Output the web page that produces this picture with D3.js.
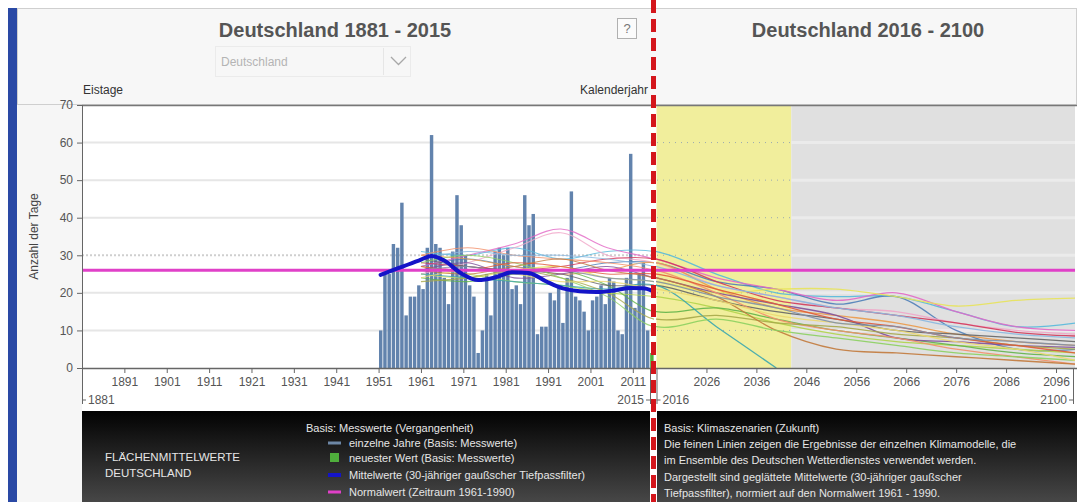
<!DOCTYPE html>
<html>
<head>
<meta charset="utf-8">
<script src="https://cdn.jsdelivr.net/npm/d3@7/dist/d3.min.js"></script>
<style>
  body { margin: 0; background: #fff; }
  svg { display: block; font-family: "Liberation Sans", Arial, sans-serif; }
</style>
</head>
<body>
<div id="chart"></div>
<script>
//Farben
const COLOR_BAR = '#6283ad',
COLOR_MEAN = '#1414c8',
COLOR_NORM = '#e040c8',
COLOR_NEW = '#4fae3c',
COLOR_DASH = '#d4161c',
COLOR_YELLOW = '#f1ee9c',
COLOR_GREY = '#e0e0e0';

//Daten: Eistage Deutschland (Flächenmittel)
const startJahr = 1951;
const eistage = [10, 25, 25, 33, 32, 44, 14, 19, 19, 22,
                 21, 32, 62, 33, 32, 24, 17, 31, 46, 38,
                 30, 22, 19, 4, 10, 25, 14, 31, 32, 30,
                 32, 21, 22, 17, 46, 38, 41, 9, 11, 11,
                 20, 18, 22, 12, 24, 47, 19, 18, 15, 10,
                 18, 19, 22, 17, 24, 23, 10, 9, 24, 57,
                 16, 25, 28, 10];
const neuesterJahr = 2015, neuesterWert = 4;

//Mittelwerte (30-jähriger Tiefpass)
const mittelJahre = [1951, 1955, 1960, 1963, 1966, 1970, 1974, 1978, 1982, 1986, 1990, 1994, 1998, 2002, 2006, 2010, 2013, 2015];
const mittelWerte = [24.8, 26.5, 28.6, 29.8, 28.6, 25.2, 23.4, 24.1, 25.5, 25.3, 23.1, 21.2, 20.4, 20.2, 20.6, 21.3, 21.2, 20.6];

const normalwert = 26;

//Klimamodelle (Ensemble)
const modellJahre = [1961, 1972, 1983, 1994, 2005, 2016, 2028, 2040, 2052, 2064, 2076, 2088, 2100];
const modelle = [
  [31, 30, 32, 29, 31, 31, 25, 20, 19, 19, 15, 11, 12],
  [27, 29, 27, 26, 28, 28, 23, 21, 17, 19, 10, 5, 5],
  [27, 30, 33, 37, 32, 29, 24, 21, 18, 20, 15, 11, 10],
  [25, 28, 32, 36, 30, 28, 22, 19, 16, 15, 12, 10, 9],
  [28, 27, 26, 27, 29, 29, 23, 18, 16, 14, 12, 9.5, 8.5],
  [30, 29, 27, 25, 26, 28, 21, 16, 14, 12, 9, 7, 6],
  [25, 24, 26, 27, 24, 23, 20, 21, 21, 19, 16.5, 18, 18.6],
  [27, 25, 23, 22, 20, 19, 16, 12, 9, 7, 6, 5, 4],
  [24, 23, 25, 26, 22, 15, 16, 13, 10, 8, 6, 4, 3],
  [29, 27, 26, 25, 22, 22, 18, 15, 13, 10, 9, 8, 7],
  [26, 28, 24, 25, 27, 24, 20, 17, 14, 8, 7, 6, 5.5],
  [25, 24, 23, 22, 21, 22, 11, 0, null, null, null, null, null],
  [30, 32, 30, 29, 28, 26, 20, 13, 10, 8, 5, 3, 1],
  [23, 24, 26, 24, 20, 13, 14, 12, 11, 9, 8, 6, 5],
  [26, 25, 27, 29, 26, 24, 19, 10, 5, 4, 3, 2, 1],
  [28, 30, 28, 24, 19, 11, 13, 10, 8, 6, 4, 3, 2],
  [29, 31, 30, 30, 29, 27, 22, 19, 16, 14, 11, 9, 8],
  [27, 26, 28, 27, 25, 25, 21, 17, 13, 11, 8, 6, 4],
  [24, 26, 25, 23, 23, 21, 18, 14, 12, 10, 7, 5, 2],
  [26, 27, 25, 26, 24, 23, 19, 16, 12, 11, 8, 7, 6]
];
const modellFarben = ['#57b9dc', '#4f7fb8', '#e268c6', '#f0a6c8', '#d23a5a', '#eb9a4a', '#e8e35a', '#b0d44a',
                      '#62b44a', '#666666', '#7f4f9a', '#3aa6b0', '#f2906a', '#a6a84a', '#c27a3c', '#8cd060',
                      '#8ab8e0', '#e05a3a', '#ecd870', '#8090a8'];

//Achsen
const yTicks = [0, 10, 20, 30, 40, 50, 60, 70];
const xTicksLinks = [1891, 1901, 1911, 1921, 1931, 1941, 1951, 1961, 1971, 1981, 1991, 2001, 2011];
const xTicksRechts = [2026, 2036, 2046, 2056, 2066, 2076, 2086, 2096];
const zeitraumLinks = [1881, 2015];
const zeitraumRechts = [2016, 2100];
const naheZukunft = [2016, 2043];

//Legende
const legendeLinks = ['einzelne Jahre (Basis: Messwerte)', 'neuester Wert (Basis: Messwerte)',
                      'Mittelwerte (30-jähriger gaußscher Tiefpassfilter)', 'Normalwert (Zeitraum 1961-1990)'];
const legendeRechts = ['Basis: Klimaszenarien (Zukunft)',
  'Die feinen Linien zeigen die Ergebnisse der einzelnen Klimamodelle, die',
  'im Ensemble des Deutschen Wetterdienstes verwendet werden.',
  'Dargestellt sind geglättete Mittelwerte (30-jähriger gaußscher',
  'Tiefpassfilter), normiert auf den Normalwert 1961 - 1990.'];

let width = 1077, height = 502;
let plot = {top: 105, bottom: 368, left: 82, mid: 654, right: 1075};

let svg = d3.select('#chart').append('svg')
    .attr('width', width)
    .attr('height', height);

let defs = svg.append('defs');
let grad = defs.append('linearGradient').attr('id', 'dunkel').attr('x1', 0).attr('y1', 0).attr('x2', 0).attr('y2', 1);
grad.append('stop').attr('offset', '0%').attr('stop-color', '#020202');
grad.append('stop').attr('offset', '100%').attr('stop-color', '#474747');
defs.append('clipPath').attr('id', 'clipL').append('rect')
    .attr('x', plot.left).attr('y', plot.top).attr('width', plot.mid - plot.left).attr('height', plot.bottom - plot.top);
defs.append('clipPath').attr('id', 'clipR').append('rect')
    .attr('x', 656).attr('y', plot.top).attr('width', plot.right - 656).attr('height', plot.bottom - plot.top);

//Skalen
let xL = d3.scaleLinear().domain([zeitraumLinks[0], zeitraumLinks[1] + 1]).range([plot.left, plot.mid]);
let xR = d3.scaleLinear().domain(zeitraumRechts).range([656.5, 1076]);
let y = d3.scaleLinear().domain([0, 70]).range([plot.bottom, plot.top]);

//Hintergründe
svg.append('rect').attr('x', 17).attr('y', 8).attr('width', 1060).attr('height', 494).attr('fill', '#f6f6f6');
svg.append('rect').attr('x', 17.5).attr('y', 8.5).attr('width', 1059).attr('height', 96).attr('fill', '#f7f7f7').attr('stroke', '#cfcfcf');
svg.append('rect').attr('x', 8).attr('y', 8).attr('width', 9).attr('height', 494).attr('fill', '#2a49a5');
svg.append('rect').attr('x', plot.left).attr('y', plot.top).attr('width', width - plot.left).attr('height', 411 - plot.top).attr('fill', '#fff');

//Titel und Kopf
svg.append('text').attr('x', 335).attr('y', 37).attr('text-anchor', 'middle')
    .attr('font-size', 20).attr('font-weight', 'bold').attr('fill', '#555').text('Deutschland 1881 - 2015');
svg.append('text').attr('x', 868).attr('y', 37).attr('text-anchor', 'middle')
    .attr('font-size', 20).attr('font-weight', 'bold').attr('fill', '#555').text('Deutschland 2016 - 2100');

let dd = svg.append('g');
dd.append('rect').attr('x', 215.5).attr('y', 46.5).attr('width', 195).attr('height', 30)
    .attr('fill', 'none').attr('stroke', '#dedede').attr('stroke-dasharray', '1,1');
dd.append('line').attr('x1', 383.5).attr('x2', 383.5).attr('y1', 48).attr('y2', 75).attr('stroke', '#e6e6e6');
dd.append('text').attr('x', 221).attr('y', 66).attr('font-size', 12).attr('fill', '#b4b4b4').text('Deutschland');
dd.append('path').attr('d', 'M391,57 L398.5,64.5 L406,57').attr('fill', 'none').attr('stroke', '#a8a8a8').attr('stroke-width', 1.3);

svg.append('rect').attr('x', 617.5).attr('y', 18.5).attr('width', 19).attr('height', 20).attr('fill', '#fbfbfb').attr('stroke', '#b0b0b0');
svg.append('text').attr('x', 627).attr('y', 33).attr('text-anchor', 'middle').attr('font-size', 13).attr('fill', '#777').text('?');

svg.append('text').attr('x', 83).attr('y', 94).attr('font-size', 12).attr('fill', '#333').text('Eistage');
svg.append('text').attr('x', 648).attr('y', 94).attr('text-anchor', 'end').attr('font-size', 12).attr('fill', '#333').text('Kalenderjahr');

//Zukunft: Hintergrund
svg.append('rect').attr('x', xR(naheZukunft[0])).attr('y', plot.top)
    .attr('width', xR(naheZukunft[1]) - xR(naheZukunft[0])).attr('height', plot.bottom - plot.top).attr('fill', COLOR_YELLOW);
svg.append('rect').attr('x', xR(naheZukunft[1])).attr('y', plot.top)
    .attr('width', plot.right - xR(naheZukunft[1])).attr('height', plot.bottom - plot.top).attr('fill', COLOR_GREY);

//Gitter
let gridTicks = yTicks.filter(d => d > 0 && d < 70);
svg.append('g').selectAll('line').data(gridTicks).enter().append('line')
    .attr('x1', plot.left).attr('x2', plot.mid)
    .attr('y1', d => y(d)).attr('y2', d => y(d))
    .attr('stroke', d => d == 30 ? '#cfcfcf' : '#e6e6e6')
    .attr('stroke-width', 2)
    .attr('stroke-dasharray', d => d == 30 ? '2,2' : null);
svg.append('g').selectAll('line').data(gridTicks).enter().append('line')
    .attr('x1', xR(naheZukunft[1])).attr('x2', plot.right)
    .attr('y1', d => y(d)).attr('y2', d => y(d))
    .attr('stroke', '#ebebeb').attr('stroke-width', 3);
svg.append('g').selectAll('line').data(gridTicks).enter().append('line')
    .attr('x1', 657).attr('x2', xR(naheZukunft[1]))
    .attr('y1', d => y(d)).attr('y2', d => y(d))
    .attr('stroke', '#9aaab0').attr('stroke-width', 1).attr('stroke-dasharray', '1,5');

//Balken: einzelne Jahre
svg.append('g').selectAll('rect').data(eistage).enter().append('rect')
    .attr('x', (d, i) => xL(startJahr + i) + 0.4)
    .attr('width', (d, i) => xL(startJahr + i + 1) - xL(startJahr + i) - 0.8)
    .attr('y', d => y(d))
    .attr('height', d => y(0) - y(d))
    .attr('fill', COLOR_BAR);
svg.append('rect')
    .attr('x', xL(neuesterJahr) + 0.4)
    .attr('width', xL(neuesterJahr + 1) - xL(neuesterJahr) - 0.8)
    .attr('y', y(neuesterWert))
    .attr('height', y(0) - y(neuesterWert))
    .attr('fill', COLOR_NEW);

//Modelllinien
let modellDaten = modelle.map(m => m.map((v, i) => [modellJahre[i], v]));
let lineL = d3.line().defined(d => d[1] != null).x(d => xL(d[0])).y(d => y(d[1])).curve(d3.curveCatmullRom);
let lineR = d3.line().defined(d => d[1] != null).x(d => xR(d[0])).y(d => y(d[1])).curve(d3.curveCatmullRom);

svg.append('g').attr('clip-path', 'url(#clipL)').selectAll('path').data(modellDaten).enter().append('path')
    .attr('d', lineL).attr('fill', 'none')
    .attr('stroke', (d, i) => modellFarben[i]).attr('stroke-width', 1.1).attr('opacity', 0.8);
svg.append('g').attr('clip-path', 'url(#clipR)').selectAll('path').data(modellDaten).enter().append('path')
    .attr('d', lineR).attr('fill', 'none')
    .attr('stroke', (d, i) => modellFarben[i]).attr('stroke-width', 1.3).attr('opacity', 0.9);

//Normalwert
svg.append('line').attr('x1', plot.left).attr('x2', plot.right)
    .attr('y1', y(normalwert)).attr('y2', y(normalwert))
    .attr('stroke', COLOR_NORM).attr('stroke-width', 3);

//Mittelwerte
let mittel = mittelJahre.map((j, i) => [j, mittelWerte[i]]);
svg.append('path').datum(mittel)
    .attr('d', d3.line().x(d => xL(d[0]) + 2).y(d => y(d[1])).curve(d3.curveMonotoneX))
    .attr('fill', 'none').attr('stroke', COLOR_MEAN).attr('stroke-width', 4).attr('stroke-linecap', 'round');

//Achsen
let axisColor = '#666';
svg.append('line').attr('x1', plot.left).attr('x2', width).attr('y1', plot.top + 0.5).attr('y2', plot.top + 0.5)
    .attr('stroke', '#777').attr('stroke-width', 1.5);

let yAxis = svg.append('g').attr('transform', 'translate(' + plot.left + ',0)')
    .call(d3.axisLeft(y).tickValues(yTicks).tickSize(5).tickPadding(4));
yAxis.select('.domain').remove();
yAxis.selectAll('line').attr('stroke', axisColor);
yAxis.selectAll('text').attr('font-size', 12).attr('fill', '#555').attr('font-family', null);
svg.append('line').attr('x1', plot.left + 0.5).attr('x2', plot.left + 0.5).attr('y1', plot.top).attr('y2', 404)
    .attr('stroke', axisColor);

svg.append('text').attr('transform', 'translate(38,' + (plot.top + plot.bottom) / 2 + ') rotate(-90)')
    .attr('text-anchor', 'middle').attr('font-size', 12).attr('fill', '#444').text('Anzahl der Tage');

svg.append('line').attr('x1', plot.left).attr('x2', width).attr('y1', plot.bottom + 0.5).attr('y2', plot.bottom + 0.5)
    .attr('stroke', axisColor).attr('stroke-width', 1.5);

let xAxisL = svg.append('g').attr('transform', 'translate(0,' + plot.bottom + ')')
    .call(d3.axisBottom(xL).tickValues(xTicksLinks).tickFormat(d3.format('d')).tickSize(5).tickPadding(4));
let xAxisR = svg.append('g').attr('transform', 'translate(0,' + plot.bottom + ')')
    .call(d3.axisBottom(xR).tickValues(xTicksRechts).tickFormat(d3.format('d')).tickSize(5).tickPadding(4));
[xAxisL, xAxisR].forEach(function(a) {
    a.select('.domain').remove();
    a.selectAll('line').attr('stroke', axisColor);
    a.selectAll('text').attr('font-size', 12).attr('fill', '#555').attr('font-family', null);
});

//Randjahre
function randJahr(xPos, txt, anchor) {
    let dir = anchor == 'start' ? 1 : -1;
    svg.append('line').attr('x1', xPos + 0.5).attr('x2', xPos + 0.5).attr('y1', plot.bottom).attr('y2', 404).attr('stroke', axisColor);
    svg.append('line').attr('x1', xPos).attr('x2', xPos + dir * 4).attr('y1', 400).attr('y2', 400).attr('stroke', axisColor);
    svg.append('text').attr('x', xPos + dir * 6).attr('y', 404).attr('text-anchor', anchor)
        .attr('font-size', 12).attr('fill', '#555').text(txt);
}
randJahr(xL(zeitraumLinks[0]), zeitraumLinks[0], 'start');
randJahr(xL(zeitraumLinks[1] + 1) - 4, zeitraumLinks[1], 'end');
randJahr(xR(zeitraumRechts[0]), zeitraumRechts[0], 'start');
randJahr(plot.right - 2, zeitraumRechts[1], 'end');

//Legende
svg.append('rect').attr('x', plot.left).attr('y', 411).attr('width', 650 - plot.left).attr('height', 91).attr('fill', 'url(#dunkel)');
svg.append('rect').attr('x', 657).attr('y', 411).attr('width', width - 657).attr('height', 91).attr('fill', 'url(#dunkel)');

let leg = svg.append('g').attr('font-size', 11).attr('fill', '#e6e6e6');
leg.append('text').attr('x', 105).attr('y', 461).attr('font-size', 11.5).text('FLÄCHENMITTELWERTE');
leg.append('text').attr('x', 105).attr('y', 477).attr('font-size', 11.5).text('DEUTSCHLAND');
leg.append('text').attr('x', 306).attr('y', 432).text('Basis: Messwerte (Vergangenheit)');

let legY = [447, 462, 479, 496];
leg.selectAll('.item').data(legendeLinks).enter().append('text')
    .attr('class', 'item').attr('x', 349).attr('y', (d, i) => legY[i]).text(d => d);
leg.append('line').attr('x1', 328).attr('x2', 341).attr('y1', 443).attr('y2', 443).attr('stroke', '#6d87a6').attr('stroke-width', 3);
leg.append('rect').attr('x', 330).attr('y', 453).attr('width', 9).attr('height', 9).attr('fill', COLOR_NEW);
leg.append('line').attr('x1', 328).attr('x2', 341).attr('y1', 475).attr('y2', 475).attr('stroke', COLOR_MEAN).attr('stroke-width', 4);
leg.append('line').attr('x1', 328).attr('x2', 341).attr('y1', 492).attr('y2', 492).attr('stroke', COLOR_NORM).attr('stroke-width', 3);

leg.selectAll('.rechts').data(legendeRechts).enter().append('text')
    .attr('class', 'rechts').attr('x', 664).attr('y', (d, i) => 432 + i * 16.2).text(d => d);

//Trennlinie
svg.append('rect').attr('x', 650).attr('y', 411).attr('width', 7).attr('height', 91).attr('fill', '#fff');
svg.append('line').attr('x1', 653.5).attr('x2', 653.5).attr('y1', 0).attr('y2', height)
    .attr('stroke', COLOR_DASH).attr('stroke-width', 5).attr('stroke-dasharray', '13,6');
</script>
</body>
</html>
